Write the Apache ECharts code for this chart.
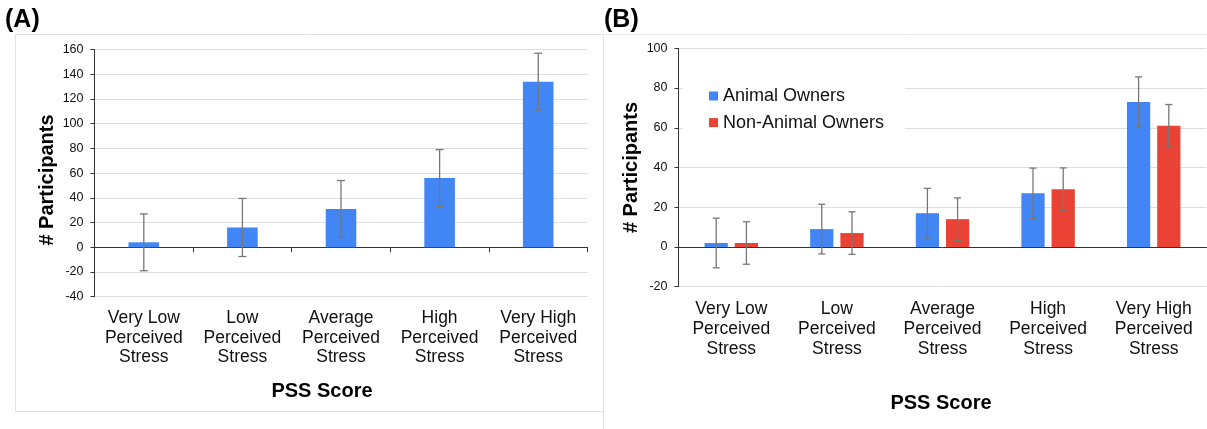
<!DOCTYPE html>
<html>
<head>
<meta charset="utf-8">
<script src="https://cdn.jsdelivr.net/npm/echarts@6/dist/echarts.min.js"></script>
<style>
  html, body { margin: 0; padding: 0; background: #fff; }
  #chart { width: 1207px; height: 429px; }
</style>
</head>
<body>
<div id="chart"></div>
<script>
// PSS categories, shared by both panels
var categories = [
    'Very Low\nPerceived\nStress',
    'Low\nPerceived\nStress',
    'Average\nPerceived\nStress',
    'High\nPerceived\nStress',
    'Very High\nPerceived\nStress'
];

// panel A: all participants
var allValues = [4, 16, 31, 56, 134];
var allErrors = [23, 23.5, 23, 23, 23];

// panel B: owners vs non-owners
var ownerValues = [2, 9, 17, 27, 73];
var ownerErrors = [12.5, 12.5, 12.5, 12.7, 12.6];
var nonOwnerValues = [2, 7, 14, 29, 61];
var nonOwnerErrors = [10.7, 10.7, 10.7, 10.8, 10.7];

// y axis ranges
var yRangeA = [-40, 160];
var yRangeB = [-20, 100];
var yStep = 20;

var FONT = '"Liberation Sans", Arial, Helvetica, sans-serif';
var BLUE = '#4285f4';
var RED = '#ea4335';

function errorData(vals, errs) {
    return vals.map(function (v, i) {
        return [i, v - errs[i], v + errs[i]];
    });
}

// draws a whisker at the bar centre, shift is a fraction of the category band
function errorRenderer(shift, cap) {
    return function (params, api) {
        var band = api.size([1, 0])[0];
        var lo = api.coord([api.value(0), api.value(1)]);
        var hi = api.coord([api.value(0), api.value(2)]);
        var x = lo[0] + band * shift;
        var style = { stroke: '#777', lineWidth: 1.3 };
        return {
            type: 'group',
            children: [
                { type: 'line', shape: { x1: x, y1: hi[1], x2: x, y2: lo[1] }, style: style },
                { type: 'line', shape: { x1: x - cap, y1: hi[1], x2: x + cap, y2: hi[1] }, style: style },
                { type: 'line', shape: { x1: x - cap, y1: lo[1], x2: x + cap, y2: lo[1] }, style: style }
            ]
        };
    };
}

function zeroAxis(gridIndex, ticks) {
    return {
        gridIndex: gridIndex,
        type: 'category',
        position: 'bottom',
        data: categories,
        axisLine: { onZero: true, lineStyle: { color: '#333', width: 1 } },
        axisTick: { show: ticks, length: 5, lineStyle: { color: '#333' } },
        axisLabel: { show: false },
        splitLine: { show: false }
    };
}

function labelAxis(gridIndex, lineHeight) {
    return {
        gridIndex: gridIndex,
        type: 'category',
        position: 'bottom',
        data: categories,
        axisLine: { show: false, onZero: false },
        axisTick: { show: false },
        axisLabel: {
            margin: 12,
            color: '#111',
            fontFamily: FONT,
            fontSize: 17.5,
            lineHeight: lineHeight,
            interval: 0
        },
        splitLine: { show: false }
    };
}

function valueAxis(gridIndex, range) {
    return {
        gridIndex: gridIndex,
        type: 'value',
        min: range[0],
        max: range[1],
        interval: yStep,
        axisLine: { show: true, lineStyle: { color: '#333' } },
        axisTick: { show: true, length: 4, lineStyle: { color: '#333' } },
        axisLabel: { margin: 11, color: '#111', fontFamily: FONT, fontSize: 12.5 },
        splitLine: { show: true, lineStyle: { color: '#dedede', width: 1 } }
    };
}

var chart = echarts.init(document.getElementById('chart'), null, { renderer: 'canvas' });

var option = {
    backgroundColor: '#fff',
    animation: false,
    textStyle: { fontFamily: FONT },
    grid: [
        { left: 94.5, top: 49.5, width: 493, height: 247.2 },
        { left: 678.5, top: 48.3, width: 528, height: 238.4 }
    ],
    xAxis: [
        zeroAxis(0, true),
        labelAxis(0, 19.5),
        zeroAxis(1, false),
        labelAxis(1, 20)
    ],
    yAxis: [
        valueAxis(0, yRangeA),
        valueAxis(1, yRangeB)
    ],
    legend: {
        orient: 'vertical',
        left: 683,
        top: 76,
        padding: [10, 21, 10, 26],
        backgroundColor: '#fff',
        itemWidth: 9,
        itemHeight: 9,
        itemGap: 6.6,
        icon: 'rect',
        data: ['Animal Owners', 'Non-Animal Owners'],
        textStyle: { fontFamily: FONT, fontSize: 18, color: '#111', lineHeight: 20 }
    },
    series: [
        {
            name: 'All Participants',
            type: 'bar',
            xAxisIndex: 0,
            yAxisIndex: 0,
            barWidth: '31%',
            itemStyle: { color: BLUE },
            data: allValues
        },
        {
            name: 'All Participants error',
            type: 'custom',
            xAxisIndex: 0,
            yAxisIndex: 0,
            z: 5,
            renderItem: errorRenderer(0, 4),
            data: errorData(allValues, allErrors)
        },
        {
            name: 'Animal Owners',
            type: 'bar',
            xAxisIndex: 2,
            yAxisIndex: 1,
            barWidth: '22%',
            barGap: '30%',
            itemStyle: { color: BLUE },
            data: ownerValues
        },
        {
            name: 'Non-Animal Owners',
            type: 'bar',
            xAxisIndex: 2,
            yAxisIndex: 1,
            barWidth: '22%',
            barGap: '30%',
            itemStyle: { color: RED },
            data: nonOwnerValues
        },
        {
            name: 'Animal Owners error',
            type: 'custom',
            xAxisIndex: 2,
            yAxisIndex: 1,
            z: 5,
            renderItem: errorRenderer(-0.143, 3.5),
            data: errorData(ownerValues, ownerErrors)
        },
        {
            name: 'Non-Animal Owners error',
            type: 'custom',
            xAxisIndex: 2,
            yAxisIndex: 1,
            z: 5,
            renderItem: errorRenderer(0.143, 3.5),
            data: errorData(nonOwnerValues, nonOwnerErrors)
        }
    ],
    graphic: [
        // panel frames
        { type: 'rect', shape: { x: 15.5, y: 34.5, width: 588, height: 377 },
          style: { fill: null, stroke: '#e2e2e2', lineWidth: 1 }, z: -1 },
        { type: 'line', shape: { x1: 603.5, y1: 34.5, x2: 1207, y2: 34.5 },
          style: { stroke: '#e8e8e8', lineWidth: 1 }, z: -1 },
        { type: 'line', shape: { x1: 603.5, y1: 411.5, x2: 603.5, y2: 429 },
          style: { stroke: '#e2e2e2', lineWidth: 1 }, z: -1 },
        // panel letters
        { type: 'text', left: 5, top: 8,
          style: { text: '(A)', font: 'bold 25px ' + FONT, fill: '#000' } },
        { type: 'text', left: 604, top: 8,
          style: { text: '(B)', font: 'bold 25px ' + FONT, fill: '#000' } },
        // axis titles
        { type: 'text', x: 47, y: 180, rotation: Math.PI / 2,
          style: { text: '# Participants', font: 'bold 20px ' + FONT, fill: '#000',
                   align: 'center', verticalAlign: 'middle' } },
        { type: 'text', x: 631, y: 167.5, rotation: Math.PI / 2,
          style: { text: '# Participants', font: 'bold 20px ' + FONT, fill: '#000',
                   align: 'center', verticalAlign: 'middle' } },
        { type: 'text', x: 322, y: 391.7,
          style: { text: 'PSS Score', font: 'bold 20px ' + FONT, fill: '#000',
                   align: 'center', verticalAlign: 'middle' } },
        { type: 'text', x: 941, y: 403.3,
          style: { text: 'PSS Score', font: 'bold 20px ' + FONT, fill: '#000',
                   align: 'center', verticalAlign: 'middle' } }
    ]
};

chart.setOption(option);
</script>
</body>
</html>
